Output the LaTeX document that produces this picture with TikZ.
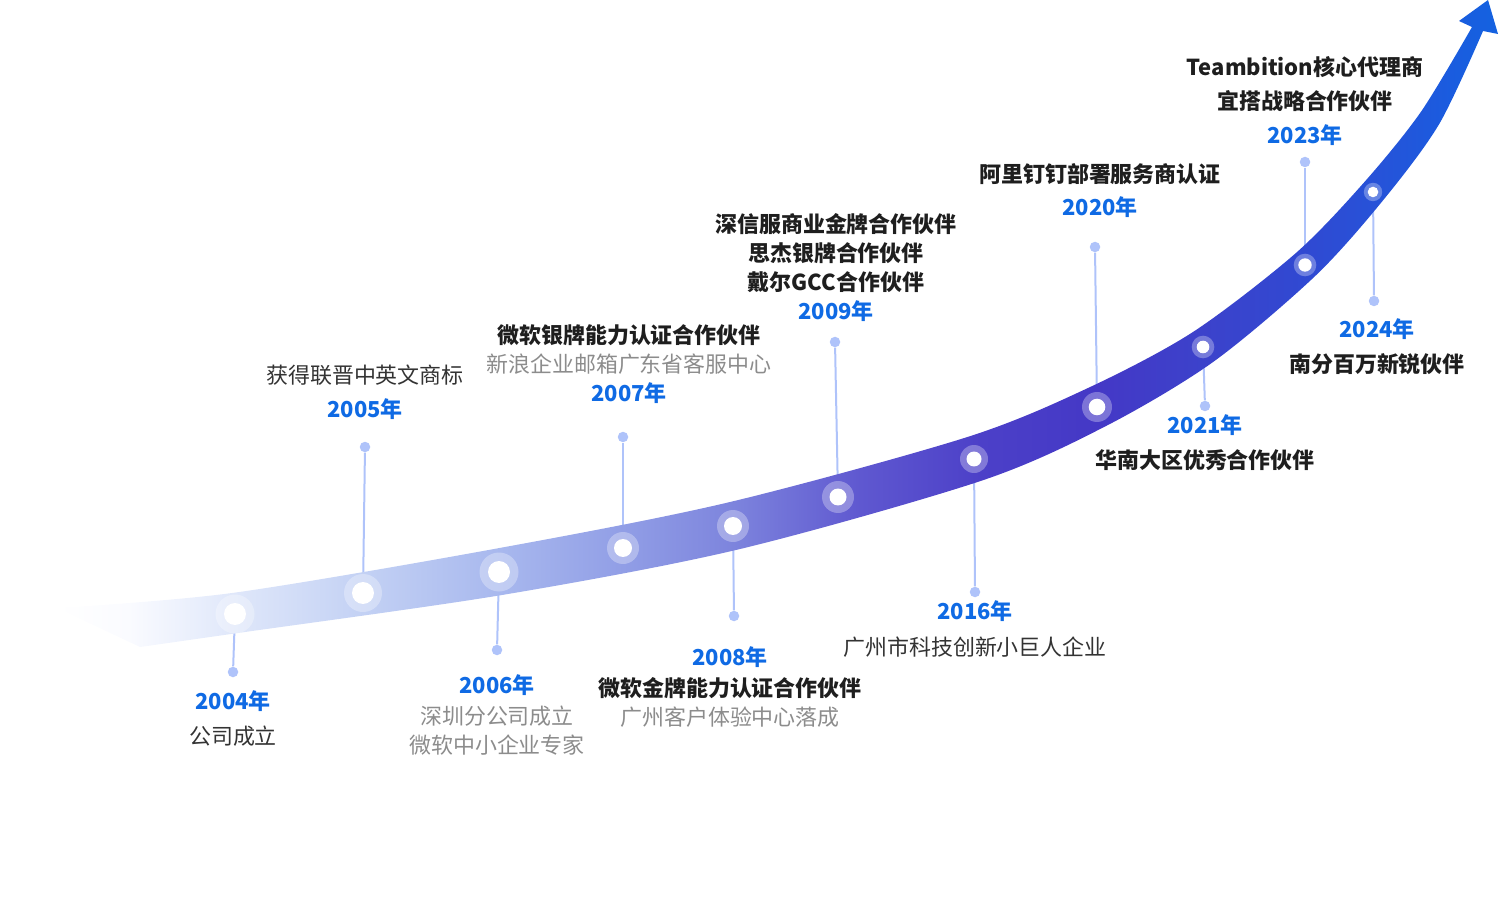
\documentclass[tikz,border=0pt]{standalone}
\usepackage{fontspec}
\setmainfont{Noto Sans CJK SC}
\usepackage{tikz}

\definecolor{yearblue}{HTML}{0F6AE4}
\definecolor{titleink}{HTML}{1E1E1E}
\definecolor{bodyink}{HTML}{333333}
\definecolor{noteink}{HTML}{8C8C8C}
\definecolor{stemblue}{HTML}{AFC3FA}
% band colours, left to right
\definecolor{bandA}{HTML}{FAFBFF}
\definecolor{bandB}{HTML}{DFE7FA}
\definecolor{bandC}{HTML}{C3D1F4}
\definecolor{bandD}{HTML}{A8B8EE}
\definecolor{bandE}{HTML}{919EE6}
\definecolor{bandF}{HTML}{7D84DD}
\definecolor{bandG}{HTML}{5F58D0}
\definecolor{bandH}{HTML}{4C40C8}
\definecolor{bandI}{HTML}{4438C6}
\definecolor{bandJ}{HTML}{3C42CB}
\definecolor{bandK}{HTML}{3049D2}
\definecolor{bandL}{HTML}{2752D8}
\definecolor{bandM}{HTML}{1A5CDF}
\definecolor{bandN}{HTML}{1462E0}
\pgfdeclarehorizontalshading{bandshade}{100bp}{color(0bp)=(white); color(25bp)=(white);
  color(27.5bp)=(bandA); color(31.18bp)=(bandB); color(35.62bp)=(bandC);
  color(40.37bp)=(bandD); color(44.64bp)=(bandE); color(48.46bp)=(bandF);
  color(52.86bp)=(bandG); color(57.03bp)=(bandH); color(61.09bp)=(bandI);
  color(64.76bp)=(bandJ); color(68.30bp)=(bandK); color(70.66bp)=(bandL);
  color(73.33bp)=(bandM); color(75bp)=(bandN); color(100bp)=(bandN)}

\newcommand\yearlabel[1]{{\color{yearblue}\bfseries #1}}
\newcommand\award[1]{{\color{titleink}\bfseries #1}}
\newcommand\plainnote[1]{{\color{noteink}#1}}

\begin{document}
\begin{tikzpicture}[x=0.02cm,y=-0.02cm,
    stem/.style={draw=stemblue,line width=0.04cm},
    stemend/.style={circle,fill=stemblue,inner sep=0pt,minimum size=0.21cm},
    dot/.style={circle,fill=white,inner sep=0pt},
    event/.style={align=center,inner sep=0pt,text=bodyink,
                  font=\fontsize{12.5}{16.5}\selectfont}]
  \useasboundingbox (0,0) rectangle (1500,908);

  % year/x/y/dot radius/halo radius/stem end x/stem end y
  \def\milestones{2004/235/614/11/19.5/233/672, 2005/363/593/11/19/365/447,
    2006/499/572/11/19.5/497/650, 2007/623/548/9/16/623/437,
    2008/733/526/9/16/734/616, 2009/838/497/8.5/16/835/342,
    2016/974/459/7.5/14/975/592, 2020/1097/407/8.3/15/1095/247,
    2021/1203/347/6.3/11.3/1205/406, 2023/1305/265/6.7/11.3/1305/162,
    2024/1373/192/5.3/9.2/1374/301}

  % stems first, the band hides their inner ends
  \foreach \yr/\x/\y/\r/\h/\ex/\ey in \milestones {
    \coordinate (c\yr) at (\x,\y);
    \node[stemend] (e\yr) at (\ex,\ey) {};
    \draw[stem] (c\yr) -- (e\yr);
  }

  % growth band with arrow head
  \shade[shading=bandshade]
    plot[smooth] coordinates {(57,608) (232,593) (494,549) (727.5,502.6)
      (966.5,437.3) (1087.8,388.1) (1192.8,332.1) (1294.9,253.9) (1363.1,183.5)
      (1420.8,112) (1472,27)}
    -- (1459,21) -- (1488,0) -- (1498,34)
    -- plot[smooth] coordinates {(1483,31) (1439.2,124) (1382.9,200.5) (1315.1,276.1)
      (1213.2,361.9) (1106.2,425.9) (981.5,480.7) (738.5,549.4) (502,595) (238,633)
      (140,647)}
    -- cycle;

  % milestone dots
  \foreach \yr/\x/\y/\r/\h/\ex/\ey in \milestones {
    \pgfmathsetmacro\halo{0.02*\h}
    \pgfmathsetmacro\dsize{0.04*\r}
    \fill[white,opacity=.3] (c\yr) circle (\halo cm);
    \node[dot,minimum size=\dsize cm] (d\yr) at (c\yr) {};
  }

  % labels
  \node[event] (t2004) at (233,718.5) {\yearlabel{2004年}\\[3.4pt] 公司成立};
  \node[event] (t2005) at (365,392) {获得联晋中英文商标\\[2.8pt] \yearlabel{2005年}};
  \node[event] (t2006) at (497,715) {\yearlabel{2006年}\\[1.1pt]
    \plainnote{深圳分公司成立}\\ \plainnote{微软中小企业专家}};
  \node[event] (t2007) at (629,364) {\award{微软银牌能力认证合作伙伴}\\
    \plainnote{新浪企业邮箱广东省客服中心}\\ \yearlabel{2007年}};
  \node[event] (t2008) at (730,687) {\yearlabel{2008年}\\[1.1pt]
    \award{微软金牌能力认证合作伙伴}\\ \plainnote{广州客户体验中心落成}};
  \node[event] (t2009) at (836,268) {\award{深信服商业金牌合作伙伴}\\
    \award{思杰银牌合作伙伴}\\ \award{戴尔GCC合作伙伴}\\ \yearlabel{2009年}};
  \node[event] (t2016) at (975,629) {\yearlabel{2016年}\\[4pt] 广州市科技创新小巨人企业};
  \node[event] (t2020) at (1100,190.5) {\award{阿里钉钉部署服务商认证}\\[2.3pt] \yearlabel{2020年}};
  \node[event] (t2021) at (1205,442.5) {\yearlabel{2021年}\\[3.4pt] \award{华南大区优秀合作伙伴}};
  \node[event] (t2023) at (1305,101) {\award{Teambition核心代理商}\\[2.8pt]
    \award{宜搭战略合作伙伴}\\[2.8pt] \yearlabel{2023年}};
  \node[event] (t2024) at (1377,346.5) {\yearlabel{2024年}\\[3.4pt] \award{南分百万新锐伙伴}};
\end{tikzpicture}
\end{document}
